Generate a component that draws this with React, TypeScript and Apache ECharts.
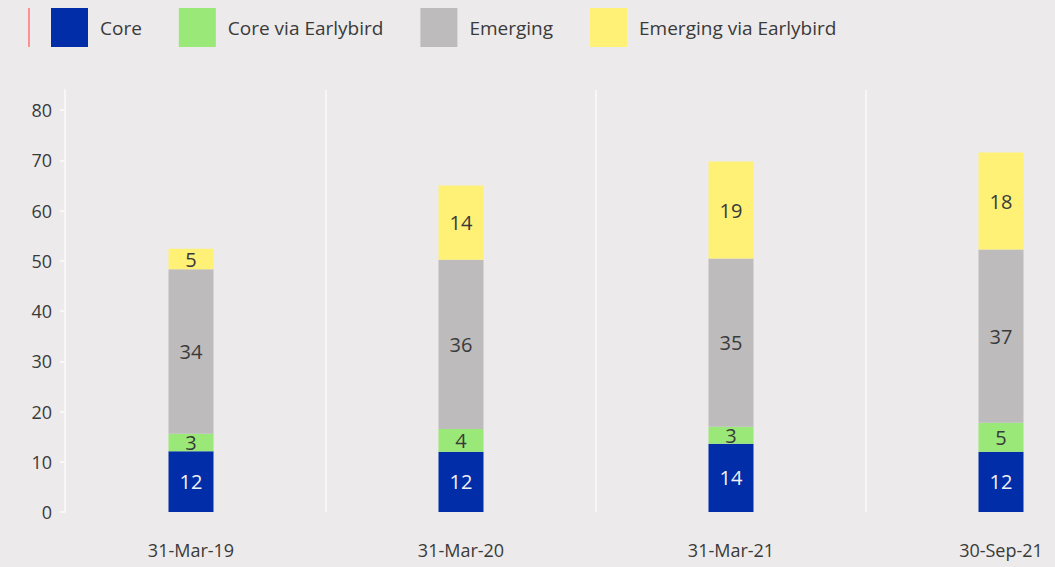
import React, { useEffect, useRef } from "react";
import * as echarts from "echarts";

const categories = ["31-Mar-19", "31-Mar-20", "31-Mar-21", "30-Sep-21"];
const seriesNames = ["Core", "Core via Earlybird", "Emerging", "Emerging via Earlybird"];

// bar heights as drawn
const coreValues = [12.1, 12.0, 13.6, 12.0];
const coreEbValues = [3.5, 4.5, 3.35, 5.75];
const emergingValues = [32.7, 33.7, 33.5, 34.5];
const emergingEbValues = [4.1, 14.8, 19.3, 19.3];

// data labels as printed
const coreLabels = ["12", "12", "14", "12"];
const coreEbLabels = ["3", "4", "3", "5"];
const emergingLabels = ["34", "36", "35", "37"];
const emergingEbLabels = ["5", "14", "19", "18"];

const yTicks = [0, 10, 20, 30, 40, 50, 60, 70, 80];

const colors = ["#012DA9", "#9AE877", "#BDBBBC", "#FFF176"];
const FONT = "Open Sans";

export default function App() {
  const ref = useRef<HTMLDivElement>(null);
  useEffect(() => {
    if (!ref.current) return;
    const chart = echarts.init(ref.current, null, { renderer: "svg" });
    const valueSets = [coreValues, coreEbValues, emergingValues, emergingEbValues];
    const labelSets = [coreLabels, coreEbLabels, emergingLabels, emergingEbLabels];
    chart.setOption({
      animation: false,
      backgroundColor: "#ECEAEA",
      textStyle: { fontFamily: FONT },
      graphic: [
        { type: "rect", shape: { x: 28, y: 8, width: 2, height: 39 }, style: { fill: "#FF8F94" } },
      ],
      legend: {
        left: 51,
        top: 8,
        padding: 0,
        itemWidth: 37,
        itemHeight: 39,
        itemGap: 37,
        icon: "rect",
        textStyle: { fontFamily: FONT, fontSize: 19, color: "#3A3A3A", padding: [0, 0, 0, 7] },
        data: seriesNames,
      },
      grid: { left: 56, width: 1080, top: 90, height: 422, containLabel: false, outerBoundsMode: "none" },
      xAxis: {
        type: "category",
        data: categories,
        axisLine: { show: false },
        axisTick: { show: false },
        axisLabel: { fontFamily: FONT, fontSize: 18, color: "#3A3A3A", margin: 29 },
        splitLine: {
          show: true,
          lineStyle: { color: ["rgba(0,0,0,0)", "#F7F7F7", "#F7F7F7", "#F7F7F7", "#F7F7F7"], width: 2 },
        },
      },
      yAxis: {
        type: "value",
        min: 0,
        max: 84,
        interval: 10,
        offset: -9,
        axisLine: { show: true, lineStyle: { color: "#F7F7F7", width: 2 } },
        axisTick: { show: true, length: 5, lineStyle: { color: "#F7F7F7", width: 2 }, customValues: yTicks },
        axisLabel: { fontFamily: FONT, fontSize: 18, color: "#3A3A3A", margin: 13, customValues: yTicks },
        splitLine: { show: false },
      },
      series: seriesNames.map((name, i) => ({
        name,
        type: "bar",
        stack: "total",
        barWidth: 45,
        itemStyle: { color: colors[i] },
        label: {
          show: true,
          position: "inside",
          fontFamily: FONT,
          fontSize: 20,
          color: i === 0 ? "#F2F2F2" : "#3A3A3A",
          formatter: (p: any) => labelSets[i][p.dataIndex],
        },
        data: valueSets[i],
      })),
    });
    return () => chart.dispose();
  }, []);
  return (
    <div
      ref={ref}
      style={{ position: "fixed", left: 0, top: 0, width: 1055, height: 567, background: "#ECEAEA" }}
    />
  );
}
